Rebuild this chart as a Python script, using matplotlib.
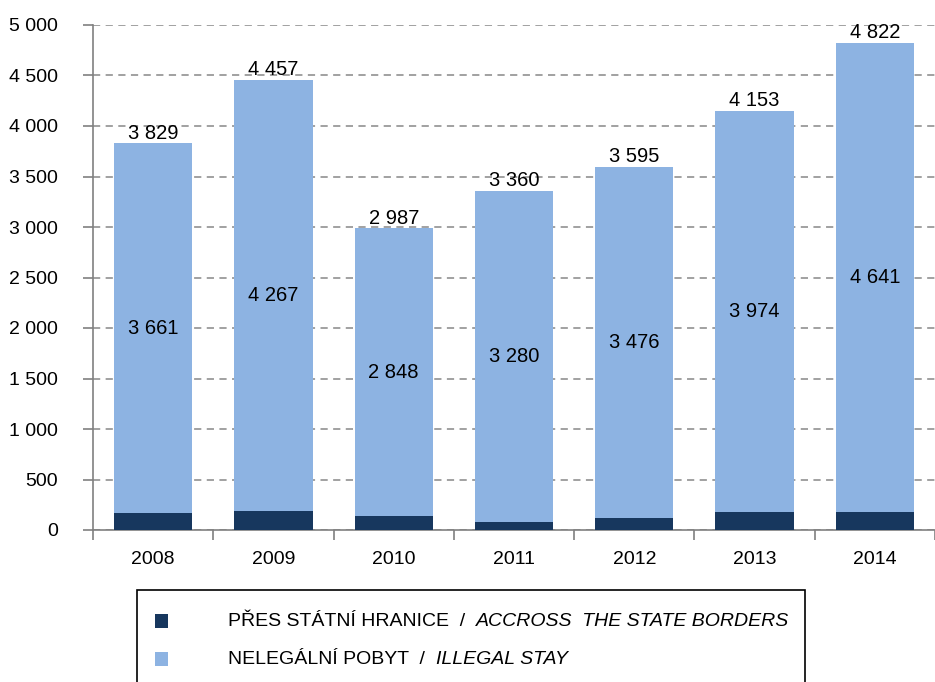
import matplotlib
matplotlib.use("Agg")
import matplotlib.pyplot as plt
from matplotlib.patches import Rectangle
import numpy as np

years = ["2008", "2009", "2010", "2011", "2012", "2013", "2014"]
illegal_stay = [3661, 4267, 2848, 3280, 3476, 3974, 4641]
totals = [3829, 4457, 2987, 3360, 3595, 4153, 4822]
borders = [t - i for t, i in zip(totals, illegal_stay)]
yticks = [0, 500, 1000, 1500, 2000, 2500, 3000, 3500, 4000, 4500, 5000]

def fmt(v):
    return f"{v:,}".replace(",", " ")

plt.rcParams['font.family'] = ['Liberation Sans', 'DejaVu Sans']

W, H = 935, 682
fig = plt.figure(figsize=(W/100, H/100), dpi=100)
ax = fig.add_axes([93/W, 1-530/H, (935-93)/W, 505/H])

dark = "#17375E"
light = "#8DB3E2"
x = np.arange(len(years))
bw = 0.65
ax.bar(x, borders, bw, color=dark, zorder=3)
ax.bar(x, illegal_stay, bw, bottom=borders, color=light, zorder=3)

for xi, b, il, t in zip(x, borders, illegal_stay, totals):
    ax.text(xi, b + il/2, fmt(il), ha='center', va='center', fontsize=14.5, color='black', zorder=4)
    ax.text(xi, t + 5, fmt(t), ha='center', va='bottom', fontsize=14.5, color='black', zorder=4)

ax.set_xlim(-0.5, len(years)-0.5)
ax.set_ylim(0, 5000)
ax.set_yticks(yticks)
ax.set_yticklabels([fmt(v) for v in yticks], fontsize=14)
ax.yaxis.grid(True, linestyle=(0, (4, 3)), color="#9A9A9A", linewidth=1.3, zorder=0)
ax.set_xticks(x)
ax.set_xticklabels(years, fontsize=14)
ax.set_xticks(np.arange(-0.5, len(years)), minor=True)
ax.tick_params(axis='x', which='major', length=0, pad=15)
ax.tick_params(axis='x', which='minor', length=7, color="#808080", width=1.2)
ax.tick_params(axis='y', length=7, color="#808080", width=1.2, pad=18)
for s in ['top', 'right']:
    ax.spines[s].set_visible(False)
for s in ['left', 'bottom']:
    ax.spines[s].set_color("#808080")
    ax.spines[s].set_linewidth(1.2)

# legend box
fig.patches.append(Rectangle((137/W, -0.05), (805-137)/W, (1-590/H)+0.05,
                             transform=fig.transFigure, fill=False,
                             edgecolor="black", linewidth=1.2, clip_on=False))
labels = [("PŘES STÁTNÍ HRANICE  /  ", "ACCROSS  THE STATE BORDERS", dark, 621),
          ("NELEGÁLNÍ POBYT  /  ", "ILLEGAL STAY", light, 659)]
for a, b, c, yy in labels:
    fig.patches.append(Rectangle((155/W, 1-(yy+7)/H), 13/W, 14/H, transform=fig.transFigure,
                                 facecolor=c, edgecolor='none'))
    t1 = fig.text(228/W, 1-yy/H, a, fontsize=14, va='center', ha='left')
    fig.canvas.draw()
    bb = t1.get_window_extent()
    fig.text(bb.x1/W, 1-yy/H, b, fontsize=14, va='center', ha='left', style='italic')

fig.savefig("out.png", dpi=100)
